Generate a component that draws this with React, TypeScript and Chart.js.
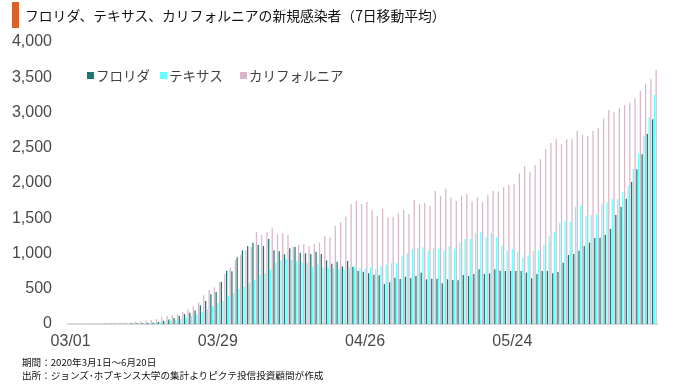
import React, { useEffect, useRef } from "react";
import { Chart, registerables } from "chart.js";

Chart.register(...registerables);

const TITLE = "フロリダ、テキサス、カリフォルニアの新規感染者（7日移動平均）";
const SERIES_NAMES = ["フロリダ", "テキサス", "カリフォルニア"];
const SERIES_COLORS = ["#1a7a72", "#66ffff", "#d8b6c9"];
const FOOTER_1 = "期間：2020年3月1日～6月20日";
const FOOTER_2 = "出所：ジョンズ･ホプキンス大学の集計よりピクテ投信投資顧問が作成";
const X_TICKS = ["03/01", "03/29", "04/26", "05/24"];
const Y_MAX = 4000;
const Y_STEP = 500;

const florida = [
  0, 0, 0, 0, 0, 1, 1, 2, 2, 3,
  4, 5, 7, 9, 11, 14, 19, 28, 45, 65,
  85, 113, 140, 160, 190, 265, 326, 421, 454, 596,
  757, 747, 946, 1045, 1106, 1154, 1120, 1106, 1206, 1045,
  1031, 988, 1073, 1092, 1012, 1002, 993, 1026, 993, 903,
  855, 884, 818, 894, 813, 752, 740, 719, 700, 690,
  567, 591, 657, 638, 671, 648, 681, 728, 634, 643,
  643, 577, 634, 624, 619, 695, 681, 709, 775, 709,
  719, 775, 757, 752, 752, 752, 752, 728, 648, 709,
  752, 752, 719, 738, 870, 979, 993, 1040, 1106, 1154,
  1220, 1225, 1267, 1348, 1546, 1664, 1778, 2014, 2194, 2407,
  2695, 2903,
];

const texas = [
  0, 0, 0, 0, 0, 0, 1, 1, 1, 2,
  3, 4, 5, 6, 8, 12, 18, 25, 35, 45,
  55, 70, 90, 110, 135, 170, 210, 255, 293, 326,
  397, 435, 492, 530, 577, 624, 695, 719, 766, 865,
  908, 917, 910, 895, 865, 865, 806, 846, 804, 795,
  785, 780, 766, 802, 818, 790, 790, 804, 780, 818,
  842, 861, 861, 965, 1002, 1059, 1078, 1087, 1040, 1078,
  1064, 1035, 1106, 1069, 1154, 1206, 1206, 1286, 1305, 1229,
  1296, 1230, 1110, 1040, 1059, 1021, 946, 974, 1040, 1050,
  1121, 1248, 1305, 1437, 1466, 1447, 1664, 1683, 1532, 1546,
  1556, 1702, 1726, 1768, 1773, 1872, 1962, 2199, 2421, 2667,
  2931, 3248,
];

const california = [
  3, 4, 5, 6, 8, 9, 10, 12, 15, 18,
  22, 25, 33, 40, 48, 57, 71, 104, 113, 128,
  137, 175, 208, 255, 303, 407, 482, 520, 596, 709,
  804, 908, 979, 1045, 1097, 1305, 1264, 1305, 1357, 1277,
  1292, 1262, 1097, 1120, 1135, 1106, 1135, 1154, 1248, 1229,
  1390, 1447, 1522, 1702, 1745, 1702, 1732, 1612, 1532, 1631,
  1508, 1522, 1570, 1617, 1560, 1759, 1697, 1716, 1678, 1887,
  1820, 1920, 1792, 1745, 1820, 1844, 1740, 1797, 1730, 1830,
  1887, 1882, 1939, 1972, 1986, 2137, 2241, 2156, 2255, 2340,
  2482, 2567, 2624, 2553, 2619, 2629, 2742, 2681, 2671, 2738,
  2780, 2917, 3035, 3002, 3069, 3106, 3139, 3201, 3305, 3400,
  3470, 3603,
];

// categories: daily dates from 2020-03-01 to 2020-06-20
const categories: string[] = (() => {
  const out: string[] = [];
  const d = new Date(Date.UTC(2020, 2, 1));
  for (let i = 0; i < florida.length; i++) {
    const mm = String(d.getUTCMonth() + 1).padStart(2, "0");
    const dd = String(d.getUTCDate()).padStart(2, "0");
    out.push(`${mm}/${dd}`);
    d.setUTCDate(d.getUTCDate() + 1);
  }
  return out;
})();

const TICK_FONT = "'Liberation Sans', Arial, sans-serif";
const JP_FONT = "'Noto Sans CJK JP', 'Noto Sans', sans-serif";

export default function App() {
  const canvasRef = useRef<HTMLCanvasElement | null>(null);

  useEffect(() => {
    if (!canvasRef.current) return;
    const seriesData = [florida, texas, california];
    const chart = new Chart(canvasRef.current, {
      type: "bar",
      data: {
        labels: categories,
        datasets: SERIES_NAMES.map((name, i) => ({
          label: name,
          data: seriesData[i],
          backgroundColor: SERIES_COLORS[i],
          borderWidth: 0,
          categoryPercentage: 1.0,
          barPercentage: 0.72,
        })),
      },
      options: {
        animation: false,
        responsive: false,
        maintainAspectRatio: false,
        layout: { padding: { left: 0, right: 23, top: 42, bottom: 26 } },
        plugins: {
          legend: { display: false },
          tooltip: { enabled: false },
          title: { display: false },
        },
        scales: {
          x: {
            offset: true,
            grid: { display: false, drawTicks: false },
            border: { display: true, color: "#d9d9d9", width: 2 },
            ticks: {
              autoSkip: false,
              maxRotation: 0,
              minRotation: 0,
              padding: 8,
              color: "#4a4a4a",
              font: { family: TICK_FONT, size: 16 },
              callback: (_v: any, idx: number) => {
                const lab = categories[idx];
                return X_TICKS.includes(lab) ? lab : "";
              },
            },
            afterFit: (scale: any) => {
              scale.height = 38;
            },
          },
          y: {
            min: 0,
            max: Y_MAX,
            grid: { display: false, drawTicks: false },
            border: { display: false },
            ticks: {
              stepSize: Y_STEP,
              padding: 16,
              color: "#4a4a4a",
              font: { family: TICK_FONT, size: 16 },
              callback: (v: any) => Number(v).toLocaleString("en-US"),
            },
            afterFit: (scale: any) => {
              scale.width = 68;
            },
          },
        },
      },
    });
    return () => chart.destroy();
  }, []);

  return (
    <div
      style={{
        position: "fixed",
        left: 0,
        top: 0,
        width: 680,
        height: 388,
        background: "#ffffff",
        overflow: "hidden",
      }}
    >
      <canvas
        ref={canvasRef}
        width={680}
        height={388}
        style={{ position: "absolute", left: 0, top: 0, width: 680, height: 388 }}
      />
      <div
        style={{
          position: "absolute",
          left: 12,
          top: 2,
          width: 7,
          height: 26,
          background: "#d9622b",
        }}
      />
      <div
        style={{
          position: "absolute",
          left: 25,
          top: 5,
          fontFamily: JP_FONT,
          fontSize: 13.8,
          lineHeight: "20px",
          color: "#111",
          whiteSpace: "nowrap",
        }}
      >
        {TITLE}
      </div>
      {SERIES_NAMES.map((name, i) => {
        const lefts = [87, 160, 240];
        return (
          <div
            key={name}
            style={{
              position: "absolute",
              left: lefts[i],
              top: 65,
              height: 20,
              display: "flex",
              alignItems: "center",
              fontFamily: JP_FONT,
              fontSize: 13.5,
              color: "#404040",
              whiteSpace: "nowrap",
            }}
          >
            <span
              style={{
                display: "inline-block",
                width: 7,
                height: 7,
                background: SERIES_COLORS[i],
                marginRight: 2,
              }}
            />
            {name}
          </div>
        );
      })}
      <div
        style={{
          position: "absolute",
          left: 22,
          top: 356,
          fontFamily: JP_FONT,
          fontSize: 9.6,
          lineHeight: "13px",
          color: "#111",
          whiteSpace: "nowrap",
        }}
      >
        <div>{FOOTER_1}</div>
        <div>{FOOTER_2}</div>
      </div>
    </div>
  );
}
